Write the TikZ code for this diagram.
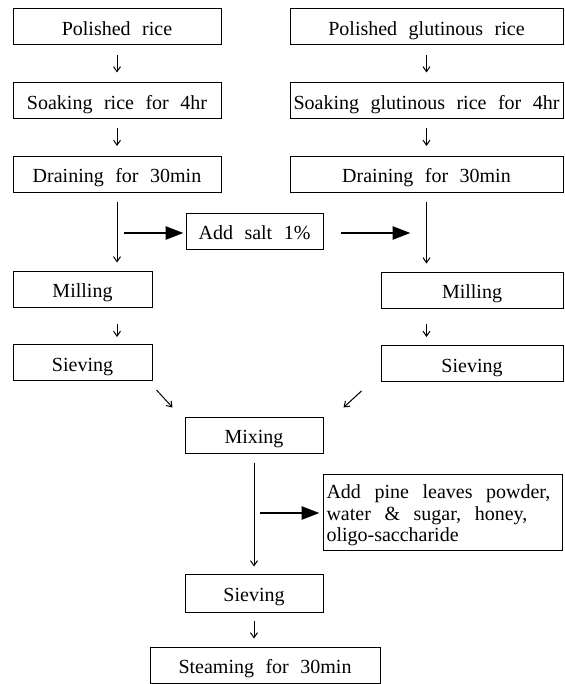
\documentclass[tikz,border=0pt]{standalone}
\usepackage{fontspec}
\setmainfont{Liberation Serif}[WordSpace=2.3]
\usetikzlibrary{arrows.meta,calc}

\begin{document}
\begin{tikzpicture}[x=0.5pt, y=-0.5pt,
  frame/.style = {draw, line width=0.5pt, inner sep=0pt,
                  font=\fontsize{10}{10.5}\selectfont},
  box/.style = {frame, minimum height=18pt, text height=9pt, text depth=0.5pt},
  thin/.style = {-{Straight Barb[length=2.5pt,width=3.5pt]}, line width=0.5pt},
  fat/.style = {-{Triangle[length=9pt,width=6.5pt]}, line width=1.4pt}]
\useasboundingbox (0,0) rectangle (564,684);
% left column
\node[box, minimum width=104pt] at (117,27) (rice1) {Polished rice};
\node[box, minimum width=104pt] at (117,101) (soak1) {Soaking rice for 4hr};
\node[box, minimum width=104pt] at (117,174.5) (drain1) {Draining for 30min};
\node[box, minimum width=69.5pt] at (82.5,289) (mill1) {Milling};
\node[box, minimum width=69.5pt] at (82.5,362.5) (sieve1) {Sieving};
% right column
\node[box, minimum width=136.5pt] at (426.5,27) (rice2) {Polished glutinous rice};
\node[box, minimum width=136.5pt] at (426.5,101) (soak2) {Soaking glutinous rice for 4hr};
\node[box, minimum width=136.5pt] at (426.5,174.5) (drain2) {Draining for 30min};
\node[box, minimum width=91pt] at (472,290) (mill2) {Milling};
\node[box, minimum width=91pt] at (472,363.5) (sieve2) {Sieving};
% middle
\node[box, minimum width=68.5pt] at (254.5,231) (salt) {Add salt 1\%};
\node[box, minimum width=69pt] at (254,435) (mix) {Mixing};
\node[frame, minimum width=119.5pt, minimum height=38pt, text width=116pt,
      inner xsep=1.5pt, align=left, font=\fontsize{10}{10.7}\selectfont]
  at (442.5,512) (pine)
  {\spaceskip=0.68em\relax\rule{0pt}{10.5pt}Add pine leaves powder,\\ water \& sugar, honey,\\ oligo-saccharide};
\node[box, minimum width=69pt, minimum height=19pt] at (254,593) (sieve3) {Sieving};
\node[box, minimum width=115pt] at (265,665) (steam) {Steaming for 30min};

\draw[thin, shorten <=5pt, shorten >=5pt] (rice1) -- (soak1);
\draw[thin, shorten <=4.5pt, shorten >=5pt] (soak1) -- (drain1);
\draw[thin, shorten <=5pt, shorten >=5pt] (rice2) -- (soak2);
\draw[thin, shorten <=4.5pt, shorten >=5pt] (soak2) -- (drain2);
\draw[thin, shorten <=4.5pt, shorten >=4pt] (drain1.south) -- (drain1.south |- mill1.north);
\draw[thin, shorten <=8pt, shorten >=3.5pt] (drain1.south |- mill1.south) -- (drain1.south |- sieve1.north);
\draw[thin, shorten <=4.5pt, shorten >=4pt] (drain2.south) -- (drain2.south |- mill2.north);
\draw[thin, shorten <=7.5pt, shorten >=4pt] (drain2.south |- mill2.south) -- (drain2.south |- sieve2.north);
\draw[fat, shorten >=1pt] ($(drain1.south |- salt.west)+(7,2)$) -- ($(salt.west)+(0,2)$);
\draw[fat, shorten <=8.5pt, shorten >=8pt] ($(salt.east)+(0,2)$) -- ($(drain2.south |- salt.east)+(0,2)$);
\draw[thin] ($(sieve1.south east)+(4,9)$) -- ($(mix.north west)+(-12,-9)$);
\draw[thin] ($(sieve2.south west)+(-19,9)$) -- ($(mix.north east)+(20,-9)$);
\draw[thin, shorten <=4.5pt, shorten >=3.5pt] (mix) -- (sieve3);
\draw[fat, shorten >=1.5pt] ($(mix.south |- pine.west)+(6,1)$) -- ($(pine.west)+(0,1)$);
\draw[thin, shorten <=4pt, shorten >=4pt] (sieve3.south) -- (sieve3.south |- steam.north);
\end{tikzpicture}
\end{document}
